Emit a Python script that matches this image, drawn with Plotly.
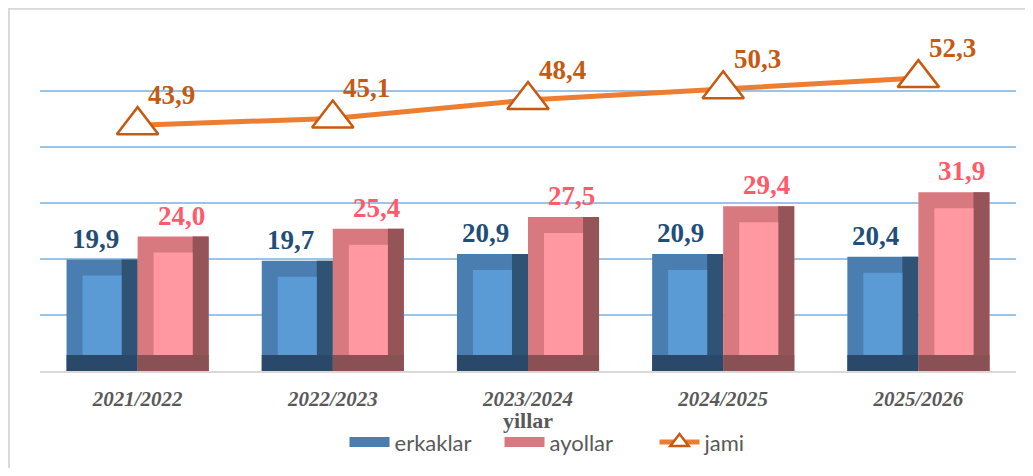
import plotly.graph_objects as go

categories = ["2021/2022", "2022/2023", "2023/2024", "2024/2025", "2025/2026"]
erkaklar = [19.9, 19.7, 20.9, 20.9, 20.4]
ayollar = [24.0, 25.4, 27.5, 29.4, 31.9]
jami = [43.9, 45.1, 48.4, 50.3, 52.3]
axis_title = "yillar"

def fmt(v):
    return f"{v:.1f}".replace(".", ",")

x = list(range(len(categories)))
W = 0.364      # bar width in category units
BX = 0.082     # horizontal bevel
BY = 2.85      # vertical bevel (value units)

fig = go.Figure()

def beveled(vals, off, cols, name, textcolor, tshift):
    face, left, right, bottom = cols
    fig.add_trace(go.Bar(x=x, y=vals, offset=off, width=W, marker=dict(color=left, line=dict(width=0)),
                         name=name, showlegend=False, hoverinfo="skip"))
    fig.add_trace(go.Bar(x=x, y=vals, offset=off + W - BX, width=BX,
                         marker=dict(color=right, line=dict(width=0)), showlegend=False, hoverinfo="skip"))
    fig.add_trace(go.Bar(x=x, y=[BY] * len(vals), offset=off, width=W,
                         marker=dict(color=bottom, line=dict(width=0)), showlegend=False, hoverinfo="skip"))
    fig.add_trace(go.Bar(x=x, y=[v - 2 * BY for v in vals], base=[BY] * len(vals), offset=off + BX,
                         width=W - 2 * BX, marker=dict(color=face, line=dict(width=0)),
                         showlegend=False, hoverinfo="skip"))
    for xi, v in zip(x, vals):
        fig.add_annotation(x=xi + off + W / 2, y=v, text=f"<b>{fmt(v)}</b>", showarrow=False,
                           yanchor="bottom", xshift=tshift, yshift=4,
                           font=dict(family="Liberation Serif", size=27, color=textcolor))
    # legend proxy
    fig.add_trace(go.Scatter(x=[None], y=[None], mode="lines", name=name,
                             line=dict(color=left, width=16), showlegend=True))

beveled(erkaklar, -W, ("#5B9BD5", "#4A7DB0", "#2F5374", "#29486A"), "erkaklar", "#1F4E79", -7)
beveled(ayollar, 0.0, ("#FF98A0", "#D8797F", "#955458", "#8A5155"), "ayollar", "#FF5A6A", 8)

fig.add_trace(go.Scatter(x=x, y=jami, mode="lines+markers", name="jami",
                         line=dict(color="#ED7D31", width=5),
                         marker=dict(symbol="triangle-up", size=36, color="white",
                                     line=dict(color="#C55A11", width=2.5)),
                         hoverinfo="skip"))

for xi, v in zip(x, jami):
    fig.add_annotation(x=xi, y=v, text=f"<b>{fmt(v)}</b>", showarrow=False,
                       xshift=34, yshift=30,
                       font=dict(family="Liberation Serif", size=27, color="#C55A11"))

fig.add_annotation(xref="paper", yref="paper", x=0.5, y=-0.147, yanchor="middle",
                   text=f"<b>{axis_title}</b>", showarrow=False,
                   font=dict(family="Liberation Serif", size=22, color="#595959"))

fig.update_layout(
    width=1017, height=460,
    margin=dict(l=32, r=9, t=27, b=97, autoexpand=False),
    paper_bgcolor="white", plot_bgcolor="white",
    barmode="overlay",
    showlegend=True,
    legend=dict(orientation="h", x=0.312, xanchor="left", y=-0.212, yanchor="middle",
                font=dict(family="Lato", size=22, color="#595959"),
                traceorder="normal", itemwidth=40, entrywidth=100),
    xaxis=dict(range=[-0.5, 4.5], tickmode="array", tickvals=x,
               ticktext=[f"<b><i>{c}</i></b>" for c in categories],
               tickfont=dict(family="Liberation Serif", size=21, color="#595959"),
               showgrid=False, zeroline=False, showline=True, linecolor="#D9D9D9", linewidth=2,
               ticks="", ticklabelstandoff=8, automargin=False),
    yaxis=dict(range=[0, 60], dtick=10, showticklabels=False, showgrid=True,
               gridcolor="#9DC3E6", gridwidth=2, zeroline=False, showline=False, automargin=False),
)

fig.add_shape(type="rect", xref="paper", yref="paper", x0=-0.0318, x1=1.05, y0=-0.4, y1=1.078,
              line=dict(color="#D9D9D9", width=2), fillcolor="rgba(0,0,0,0)", layer="below")

fig.write_html("out.html")
